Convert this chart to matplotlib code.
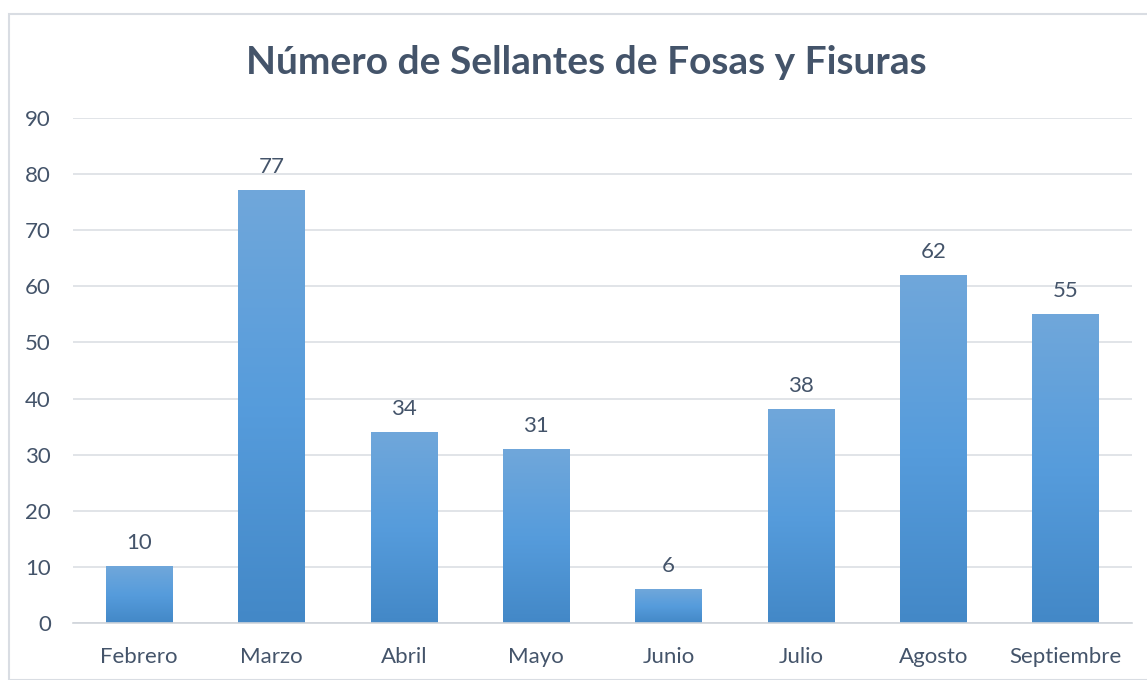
import numpy as np
import matplotlib.pyplot as plt
from matplotlib.colors import LinearSegmentedColormap
from matplotlib.patches import Rectangle

meses = ['Febrero', 'Marzo', 'Abril', 'Mayo', 'Junio', 'Julio', 'Agosto', 'Septiembre']
sellantes = [10, 77, 34, 31, 6, 38, 62, 55]
yticks = [0, 10, 20, 30, 40, 50, 60, 70, 80, 90]

texto = '#44546A'
plt.rcParams['font.family'] = ['Lato', 'DejaVu Sans']

fig = plt.figure(figsize=(11.47, 6.8), dpi=100)
W, H = 1147, 680
ax = fig.add_axes([73 / W, 1 - 623 / H, (1132 - 73) / W, (623 - 118) / H])

# chart border
fig.patches.append(Rectangle((9 / W, 0), 1.2, 1 - 14 / H, transform=fig.transFigure,
                             fill=False, edgecolor='#D9DDE3', linewidth=1.5))

x = np.arange(len(meses))
ancho = 0.505
bars = ax.bar(x, sellantes, width=ancho, color='none', zorder=2)

# vertical gradient per bar, light at top, darker at the base
grad = LinearSegmentedColormap.from_list('g', ['#4388C7', '#569CDC', '#70A7DA'])
g = np.linspace(0, 1, 256).reshape(-1, 1)
for b in bars:
    x0, w, h = b.get_x(), b.get_width(), b.get_height()
    ax.imshow(g, cmap=grad, origin='lower', aspect='auto',
              extent=(x0, x0 + w, 0, h), zorder=2, interpolation='bicubic')

for xi, v in zip(x, sellantes):
    ax.text(xi, v + 2.4, str(v), ha='center', va='bottom', fontsize=16, color=texto)

ax.set_xlim(-0.5, len(meses) - 0.5)
ax.set_ylim(0, 90)
ax.set_yticks(yticks)
ax.set_xticks(x)
ax.set_xticklabels(meses)
ax.tick_params(axis='both', length=0, labelsize=16, labelcolor=texto)
ax.tick_params(axis='x', pad=17)
ax.tick_params(axis='y', pad=16)

ax.grid(axis='y', color='#DCDFE4', linewidth=1.2, zorder=0)
ax.set_axisbelow(True)
for s in ['top', 'right', 'left']:
    ax.spines[s].set_visible(False)
ax.spines['bottom'].set_color('#D0D4DA')
ax.spines['bottom'].set_linewidth(1.2)

fig.text(586 / W, 1 - 62 / H, 'Número de Sellantes de Fosas y Fisuras', ha='center',
         va='center', fontsize=28, fontweight='bold', color=texto)

fig.savefig('out.png', dpi=100)
